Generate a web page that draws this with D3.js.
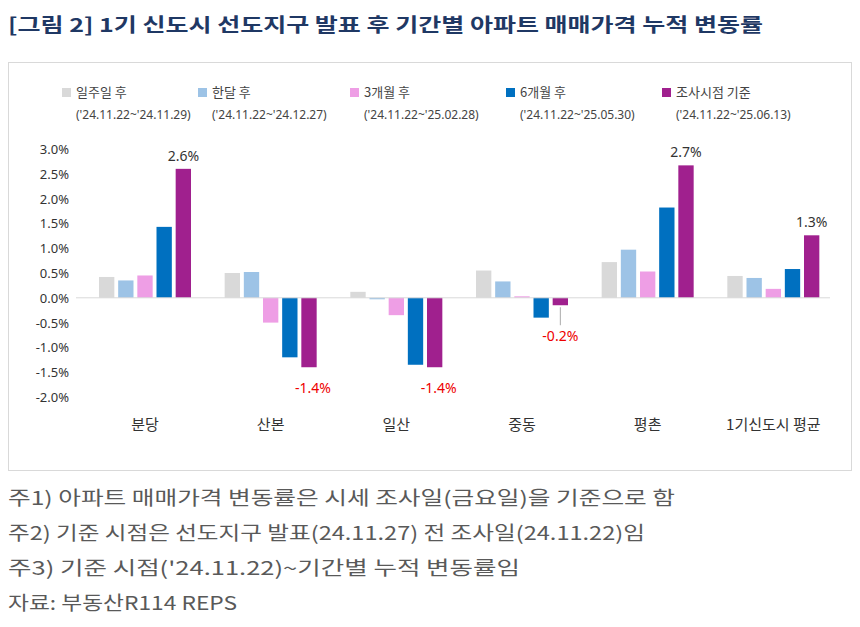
<!DOCTYPE html><html><head><meta charset="utf-8">
<script src="https://d3js.org/d3.v7.min.js"></script>
<style>body{margin:0;background:#fff;font-family:"Noto Sans CJK KR","Noto Sans",sans-serif}</style></head><body>
<script>
const categories=["분당","산본","일산","중동","평촌","1기신도시 평균"];
const seriesNames=["일주일 후","한달 후","3개월 후","6개월 후","조사시점 기준"];
const seriesDates=["('24.11.22~'24.11.29)","('24.11.22~'24.12.27)","('24.11.22~'25.02.28)","('24.11.22~'25.05.30)","('24.11.22~'25.06.13)"];
const week=[0.42,0.50,0.12,0.55,0.72,0.44];
const month=[0.35,0.52,-0.03,0.33,0.97,0.40];
const m3=[0.45,-0.50,-0.35,0.03,0.53,0.18];
const m6=[1.43,-1.20,-1.35,-0.40,1.82,0.58];
const now=[2.60,-1.40,-1.40,-0.15,2.67,1.26];
const ticks=[3.0,2.5,2.0,1.5,1.0,0.5,0.0,-0.5,-1.0,-1.5,-2.0];
const labels=[{c:0,t:"2.6%"},{c:1,t:"-1.4%"},{c:2,t:"-1.4%"},{c:3,t:"-0.2%"},{c:4,t:"2.7%"},{c:5,t:"1.3%"}];
const notes=["주1) 아파트 매매가격 변동률은 시세 조사일(금요일)을 기준으로 함","주2) 기준 시점은 선도지구 발표(24.11.27) 전 조사일(24.11.22)임","주3) 기준 시점('24.11.22)~기간별 누적 변동률임","자료: 부동산R114 REPS"];
const noteW=[667,637,512,229];
const colors=["#d9d9d9","#9dc3e6","#ee9ee5","#0070c0","#a0208e"];
const series=[week,month,m3,m6,now];

const svg=d3.select("body").append("svg").attr("width",860).attr("height",627);
svg.append("text").attr("x",8).attr("y",32).text("[그림 2] 1기 신도시 선도지구 발표 후 기간별 아파트 매매가격 누적 변동률")
 .attr("font-size",19).attr("font-weight","bold").attr("fill","#1f3864").attr("textLength",755).attr("lengthAdjust","spacingAndGlyphs");
svg.append("rect").attr("x",8.5).attr("y",62.5).attr("width",843).attr("height",408).attr("fill","none").attr("stroke","#d9d9d9");
const y=d3.scaleLinear().domain([-2,3]).range([397,149]);
const x=d3.scaleBand().domain(categories).range([76,830]);
const xs=d3.scaleBand().domain(d3.range(5)).range([0,92]).paddingInner(0.2);
const off=23;
ticks.forEach(t=>svg.append("text").attr("x",69).attr("y",y(t)+5).attr("text-anchor","end").attr("font-size",13).attr("fill","#333").attr("font-family","Noto Sans").text(t.toFixed(1)+"%"));
series.forEach((s,i)=>{
 svg.selectAll(null).data(s).enter().append("rect")
  .attr("x",(d,j)=>x(categories[j])+off+xs(i)).attr("width",xs.bandwidth())
  .attr("y",d=>y(Math.max(0,d))).attr("height",d=>Math.abs(y(d)-y(0))).attr("fill",colors[i]);
});
svg.append("line").attr("x1",76).attr("x2",830).attr("y1",y(0)).attr("y2",y(0)).attr("stroke","#d9d9d9");
categories.forEach(c=>svg.append("text").attr("x",x(c)+off+46).attr("y",430).attr("text-anchor","middle").attr("font-size",15).attr("fill","#333").text(c));
labels.forEach(l=>{
 const v=now[l.c], bx=x(categories[l.c])+off+xs(4)+xs.bandwidth()/2;
 if(v>0){svg.append("text").attr("x",bx).attr("y",y(v)-8).attr("text-anchor","middle").attr("font-size",14).attr("fill","#333").attr("font-family","Noto Sans").text(l.t);}
 else if(l.c===3){
  svg.append("line").attr("x1",bx).attr("x2",bx).attr("y1",y(v)+2).attr("y2",y(v)+20).attr("stroke","#aaa");
  svg.append("text").attr("x",bx).attr("y",y(v)+36).attr("text-anchor","middle").attr("font-size",14).attr("fill","#e00").attr("font-family","Noto Sans").text(l.t);}
 else svg.append("text").attr("x",bx+4).attr("y",y(v)+26).attr("text-anchor","middle").attr("font-size",14).attr("fill","#e00").attr("font-family","Noto Sans").text(l.t);
});
const lx=[62,198,350,506,662];
seriesNames.forEach((n,i)=>{
 svg.append("rect").attr("x",lx[i]).attr("y",88).attr("width",9).attr("height",9).attr("fill",colors[i]);
 svg.append("text").attr("x",lx[i]+14).attr("y",97).attr("font-size",13).attr("fill","#444").text(n);
 svg.append("text").attr("x",lx[i]+14).attr("y",119).attr("font-size",12).attr("fill","#444").attr("font-family","Noto Sans").text(seriesDates[i]);
});
notes.forEach((n,i)=>svg.append("text").attr("x",8).attr("y",505+i*35).attr("font-size",19).attr("fill","#595959").attr("textLength",noteW[i]).attr("lengthAdjust","spacingAndGlyphs").text(n));
</script></body></html>
